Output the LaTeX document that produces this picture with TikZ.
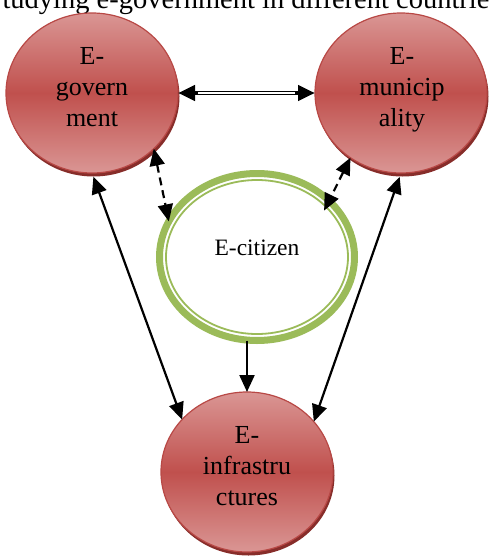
\documentclass[tikz,border=0pt]{standalone}
\usepackage{fontspec}
\setmainfont{Liberation Serif}
\usetikzlibrary{shapes.geometric,arrows.meta,shadows}
\definecolor{redmid}{RGB}{192,80,77}
\definecolor{redlight}{RGB}{218,150,148}
\definecolor{redborder}{RGB}{184,72,69}
\definecolor{redshadow}{RGB}{135,45,42}
\definecolor{citgreen}{RGB}{155,187,89}
\begin{document}
\begin{tikzpicture}[x=1pt,y=-1pt,
  >={Triangle[length=17pt,width=15pt]},
  redcirc/.style={ellipse, minimum width=172pt, minimum height=160pt, inner sep=0pt, outer sep=0pt,
    draw=redborder, line width=1.2pt, top color=redlight, bottom color=redlight, middle color=redmid,
    drop shadow={shadow xshift=1.5pt, shadow yshift=-3.5pt, fill=redshadow, opacity=1}},
  redtext/.style={align=center, inner sep=0pt, font=\fontsize{26}{31}\selectfont},
  citcirc/.style={ellipse, minimum width=195pt, minimum height=167pt, inner sep=0pt, outer sep=0pt,
    draw=citgreen, line width=7pt, fill=white},
  conn/.style={line width=2.2pt, black},
  dconn/.style={line width=2.2pt, black, dash pattern=on 8pt off 5pt}
]
\useasboundingbox (0,0) rectangle (490,557);
\node[inner sep=0pt, anchor=base, font=\fontsize{28.5}{32}\selectfont] (title) at (246,8) {tudying e-government in different countrie};

\node[redcirc] (gov) at (92,93) {};
\node[redcirc] (mun) at (401,93) {};
\node[redcirc] (infra) at (247,472) {};
\node[citcirc] (cit) at (257,257) {};
\draw[citgreen, line width=1.8pt] (cit.center) ellipse [x radius=91, y radius=77];

\node[redtext] (govt) at (92,87.5) {E-\\govern\\ment};
\node[redtext] (munt) at (402,90) {E-\\municip\\ality};
\node[redtext] (infrat) at (247,466.5) {E-\\infrastru\\ctures};
\node[inner sep=0pt, font=\fontsize{23.5}{28}\selectfont] (citt) at (257,248) {E-citizen};

% double horizontal arrow
\draw[<->, line width=4.5pt] (gov) -- (mun);
\draw[white, line width=1.2pt, shorten <=20pt, shorten >=20pt] (gov) -- (mun);

% dashed
\draw[dconn, <->] (gov.-42) -- (cit.158.7);
\draw[dconn, <->, shorten >=-11pt] (mun.232) -- (cit.38.8);

% solid
\draw[conn, <->, shorten <=4pt] (gov.south) -- (infra.141.5);
\draw[conn, <->, shorten <=4pt] (mun.south) -- (infra.37.3);
\draw[conn, ->] (infra.north |- cit.south) -- (infra.north);
\end{tikzpicture}
\end{document}
